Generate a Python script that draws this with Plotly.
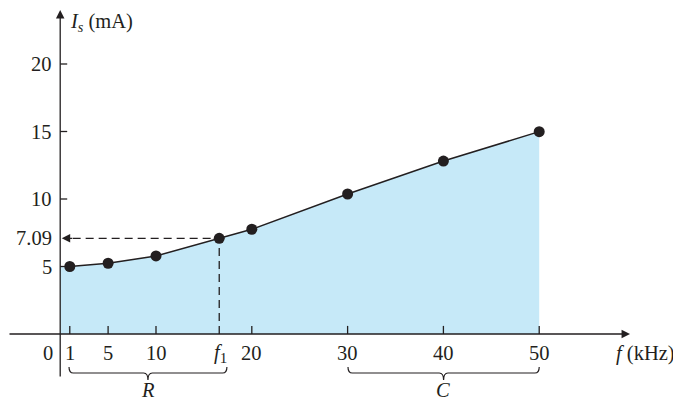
import plotly.graph_objects as go

# Data
freq_khz = [1, 5, 10, 16.6, 20, 30, 40, 50]
current_ma = [5.0, 5.24, 5.78, 7.09, 7.76, 10.37, 12.81, 14.99]
fill_x = [0] + freq_khz
fill_y = [5.0] + current_ma
f1 = 16.6
i_f1 = 7.09

x_ticks = [1, 5, 10, 20, 30, 40, 50]
x_tick_labels = ["1", "5", "10", "20", "30", "40", "50"]
y_ticks = [5, 7.09, 10, 15, 20]
y_tick_labels = ["5", "7.09", "10", "15", "20"]

FONT = "Liberation Serif"
FS = 20.5
BLACK = "#231f20"
FILL = "rgb(198,233,248)"

fig = go.Figure()

fig.add_trace(go.Scatter(x=fill_x, y=fill_y, mode="none", fill="tozeroy",
                         fillcolor=FILL, hoverinfo="skip", showlegend=False))
fig.add_trace(go.Scatter(x=freq_khz, y=current_ma, mode="lines+markers",
                         line=dict(color=BLACK, width=1.5),
                         marker=dict(color=BLACK, size=11),
                         showlegend=False))

shapes = []
annotations = []

# axes with arrows
annotations.append(dict(x=59.48, y=0, ax=-5.45, ay=0, xref="x", yref="y", axref="x", ayref="y",
                        text="", showarrow=True, arrowhead=2, arrowsize=1.3, arrowwidth=1.3,
                        arrowcolor=BLACK))
annotations.append(dict(x=0, y=24.0, ax=0, ay=-3.26, xref="x", yref="y", axref="x", ayref="y",
                        text="", showarrow=True, arrowhead=2, arrowsize=1.3, arrowwidth=1.3,
                        arrowcolor=BLACK))

# x ticks
for xv, lab in zip(x_ticks, x_tick_labels):
    shapes.append(dict(type="line", x0=xv, x1=xv, y0=0, y1=0.6, xref="x", yref="y",
                       line=dict(color=BLACK, width=1.3)))
    annotations.append(dict(x=xv, y=-1.41, xref="x", yref="y", text=lab, showarrow=False,
                            font=dict(family=FONT, size=FS, color=BLACK)))
# f1 tick label
annotations.append(dict(x=f1 + 0.15, y=-1.41, xref="x", yref="y",
                        text="<i>f</i><sub><span style='font-size:15px'>1</span></sub>",
                        showarrow=False, font=dict(family=FONT, size=FS, color=BLACK)))
annotations.append(dict(x=-1.27, y=-1.41, xref="x", yref="y", text="0", showarrow=False,
                        font=dict(family=FONT, size=FS, color=BLACK)))

# y ticks
for yv, lab in zip(y_ticks, y_tick_labels):
    if lab != "7.09":
        shapes.append(dict(type="line", x0=0, x1=0.73, y0=yv, y1=yv, xref="x", yref="y",
                           line=dict(color=BLACK, width=1.3)))
    annotations.append(dict(x=-0.6, y=yv, xref="x", yref="y", text=lab, showarrow=False,
                            xanchor="right", font=dict(family=FONT, size=FS, color=BLACK)))

# axis titles
annotations.append(dict(x=0.82, y=23.1, xref="x", yref="y", xanchor="left",
                        text="<i>I</i><sub><i>s</i></sub> (mA)", showarrow=False,
                        font=dict(family=FONT, size=FS, color=BLACK)))
annotations.append(dict(x=57.85, y=-1.41, xref="x", yref="y", xanchor="left",
                        text="<i>f</i> (kHz)", showarrow=False,
                        font=dict(family=FONT, size=FS, color=BLACK)))

# dashed guide lines
shapes.append(dict(type="line", x0=f1, x1=f1, y0=0, y1=i_f1, xref="x", yref="y",
                   line=dict(color=BLACK, width=1.3, dash="8px,5px")))
shapes.append(dict(type="line", x0=1.3, x1=f1, y0=i_f1, y1=i_f1, xref="x", yref="y",
                   line=dict(color=BLACK, width=1.3, dash="8px,5px")))
annotations.append(dict(x=0.16, y=i_f1, ax=1.4, ay=i_f1, xref="x", yref="y", axref="x", ayref="y",
                        text="", showarrow=True, arrowhead=2, arrowsize=1.3, arrowwidth=1.3,
                        arrowcolor=BLACK))

# braces
def brace(xa, xb, yt=-2.44, ym=-2.89, yp=-3.41, r=0.45):
    xc = (xa + xb) / 2
    return (f"M {xa},{yt} Q {xa},{ym} {xa + r},{ym} L {xc - r},{ym} "
            f"Q {xc},{ym} {xc},{yp} Q {xc},{ym} {xc + r},{ym} L {xb - r},{ym} "
            f"Q {xb},{ym} {xb},{yt}")

shapes.append(dict(type="path", path=brace(0.92, 17.4), xref="x", yref="y",
                   line=dict(color=BLACK, width=1.2)))
shapes.append(dict(type="path", path=brace(30.04, 50.0), xref="x", yref="y",
                   line=dict(color=BLACK, width=1.2)))
annotations.append(dict(x=9.16, y=-4.15, xref="x", yref="y", text="<i>R</i>", showarrow=False,
                        font=dict(family=FONT, size=FS, color=BLACK)))
annotations.append(dict(x=40.0, y=-4.15, xref="x", yref="y", text="<i>C</i>", showarrow=False,
                        font=dict(family=FONT, size=FS, color=BLACK)))

# page body has an 8px margin: figure is 673x391 placed at (8, 8)
fig.update_layout(
    width=673, height=391,
    margin=dict(l=0, r=0, t=0, b=0),
    paper_bgcolor="white", plot_bgcolor="white",
    xaxis=dict(range=[-5.449, 64.8], visible=False),
    yaxis=dict(range=[-4.815, 24.148], visible=False),
    shapes=shapes, annotations=annotations,
)

fig.write_html("out.html")
